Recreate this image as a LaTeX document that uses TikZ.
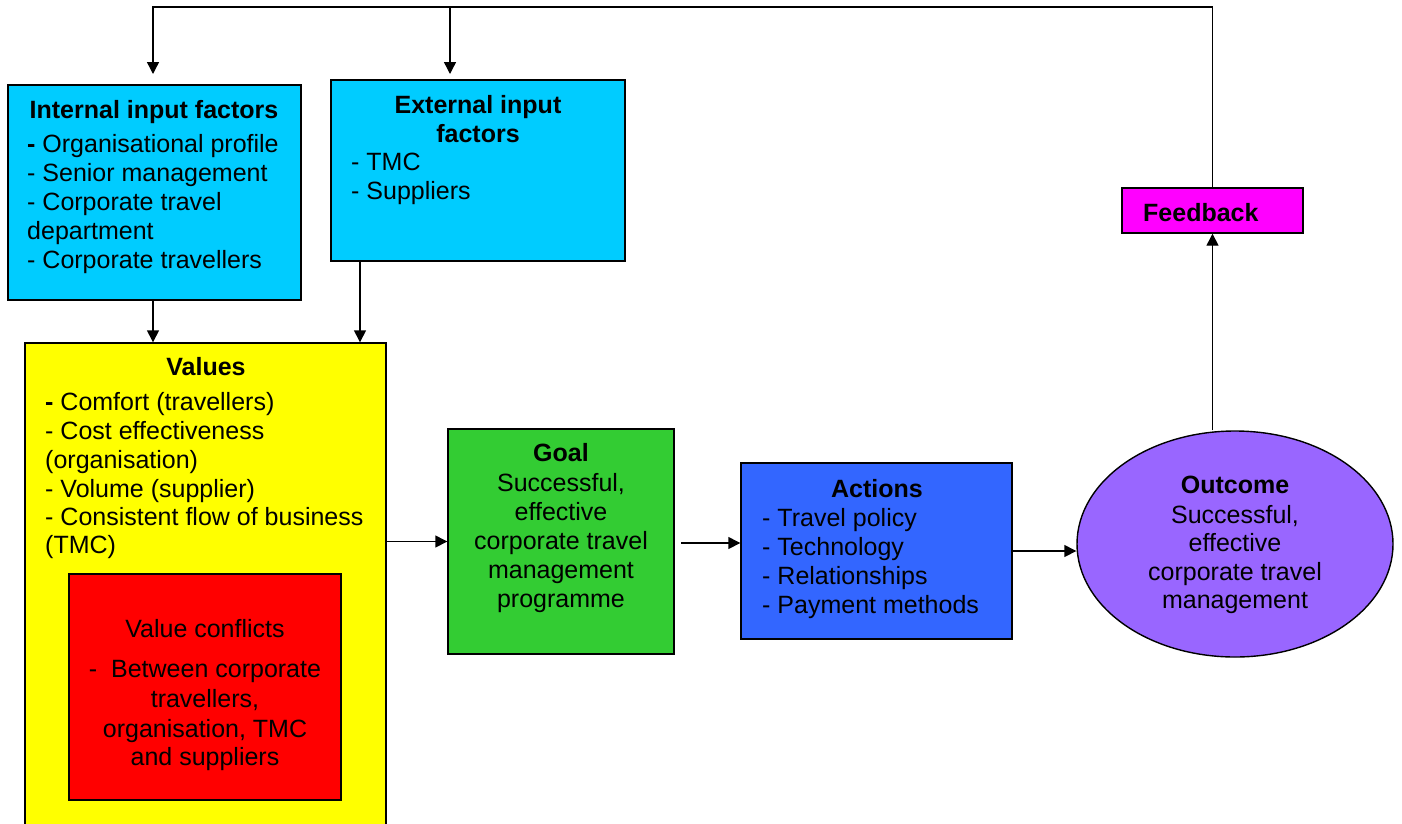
\documentclass[tikz,border=0pt]{standalone}
\usepackage{fontspec}
\setmainfont{Liberation Sans}
\usetikzlibrary{arrows.meta,shapes.geometric}
\definecolor{cyanbox}{RGB}{0,204,255}
\definecolor{yellowbox}{RGB}{255,255,0}
\definecolor{redbox}{RGB}{255,0,0}
\definecolor{greenbox}{RGB}{51,204,51}
\definecolor{bluebox}{RGB}{51,102,255}
\definecolor{purplebox}{RGB}{153,102,255}
\definecolor{magentabox}{RGB}{255,0,255}
\tikzset{
  box/.style={draw=black, line width=1.4pt, inner sep=0pt, rectangle},
  txt/.style={inner sep=0pt, font=\fontsize{25}{29}\selectfont},
  lft/.style={txt, anchor=base west},
  ctr/.style={txt, anchor=base},
  arr/.style={line width=1.4pt, -{Triangle[length=12pt,width=12pt]}},
  ln/.style={line width=1.4pt}
}
\begin{document}
\begin{tikzpicture}[x=1pt,y=-1pt]
\clip (0,0) rectangle (1402,823);
\fill[white] (0,0) rectangle (1402,823);

% boxes
\node[box, fill=cyanbox, minimum width=293pt, minimum height=215pt] (internal) at (154.5,192.5) {};
\node[box, fill=cyanbox, minimum width=294pt, minimum height=181pt] (external) at (478,170.5) {};
\node[box, fill=magentabox, minimum width=181pt, minimum height=45pt] (feedback) at (1212.5,210.5) {};
\node[box, fill=yellowbox, minimum width=361pt, minimum height=497pt] (values) at (205.5,591.5) {};
\node[box, fill=redbox, minimum width=272pt, minimum height=226pt] (conflicts) at (205,687) {};
\node[box, fill=greenbox, minimum width=226pt, minimum height=225pt] (goal) at (561,541.5) {};
\node[box, fill=bluebox, minimum width=271pt, minimum height=176pt] (actions) at (876.5,551) {};
\node[draw=black, line width=1.4pt, ellipse, fill=purplebox, inner sep=0pt, minimum width=316pt, minimum height=226pt] (outcome) at (1235,544) {};

% internal text
\node[ctr] (it0) at (154,118) {\textbf{Internal input factors}};
\node[lft] (it1) at (27,152) {\textbf{-} Organisational profile};
\node[lft] (it2) at (27,181) {- Senior management};
\node[lft] (it3) at (27,210) {- Corporate travel};
\node[lft] (it4) at (27,239) {department};
\node[lft] (it5) at (27,268) {- Corporate travellers};

% external text
\node[ctr] (et0) at (478,113) {\textbf{External input}};
\node[ctr] (et1) at (478,142) {\textbf{factors}};
\node[lft] (et2) at (351,170) {- TMC};
\node[lft] (et3) at (351,199) {- Suppliers};

% feedback text
\node[lft] (ft) at (1143,221) {\textbf{Feedback}};

% values text
\node[ctr] (vt0) at (206,375) {\textbf{Values}};
\node[lft] (vt1) at (45,410) {\textbf{-} Comfort (travellers)};
\node[lft] (vt2) at (45,439) {- Cost effectiveness};
\node[lft] (vt3) at (45,468) {(organisation)};
\node[lft] (vt4) at (45,497) {- Volume (supplier)};
\node[lft] (vt5) at (45,525) {- Consistent flow of business};
\node[lft] (vt6) at (45,553) {(TMC)};

% conflicts text
\node[ctr] (ct0) at (205,637) {Value conflicts};
\node[ctr] (ct1) at (205,677) {-\ \ Between corporate};
\node[ctr] (ct2) at (205,707) {travellers,};
\node[ctr] (ct3) at (205,737) {organisation, TMC};
\node[ctr] (ct4) at (205,765) {and suppliers};

% goal text
\node[ctr] (gt0) at (561,461) {\textbf{Goal}};
\node[ctr] (gt1) at (561,491) {Successful,};
\node[ctr] (gt2) at (561,520) {effective};
\node[ctr] (gt3) at (561,549) {corporate travel};
\node[ctr] (gt4) at (561,578) {management};
\node[ctr] (gt5) at (561,607) {programme};

% actions text
\node[ctr] (at0) at (877,497) {\textbf{Actions}};
\node[lft] (at1) at (762,526) {- Travel policy};
\node[lft] (at2) at (762,555) {- Technology};
\node[lft] (at3) at (762,584) {- Relationships};
\node[lft] (at4) at (762,613) {- Payment methods};

% outcome text
\node[ctr] (ot0) at (1235,493) {\textbf{Outcome}};
\node[ctr] (ot1) at (1235,523) {Successful,};
\node[ctr] (ot2) at (1235,551) {effective};
\node[ctr] (ot3) at (1235,580) {corporate travel};
\node[ctr] (ot4) at (1235,608) {management};

% connectors
\coordinate (tl) at (153,7);
\coordinate (tm) at (450,7);
\coordinate (cint) at (153,74);
\coordinate (cext) at (450,74);
\coordinate (xext) at (360,261);
\coordinate (ga) at (681,543);

\draw[arr] (feedback.north) |- (tl) -- (cint);
\draw[arr] (tm) -- (cext);
\draw[arr] (internal.south -| tl) -- (values.north -| tl);
\draw[arr] (external.south -| xext) -- (values.north -| xext);
\draw[arr] (values.east |- goal.west) -- (goal.west);
\draw[arr] (ga) -- (ga -| actions.west);
\draw[arr] (actions.east) -- (actions.east -| outcome.west);
\draw[arr] (outcome.north -| feedback.south) -- (feedback.south);
\end{tikzpicture}
\end{document}
